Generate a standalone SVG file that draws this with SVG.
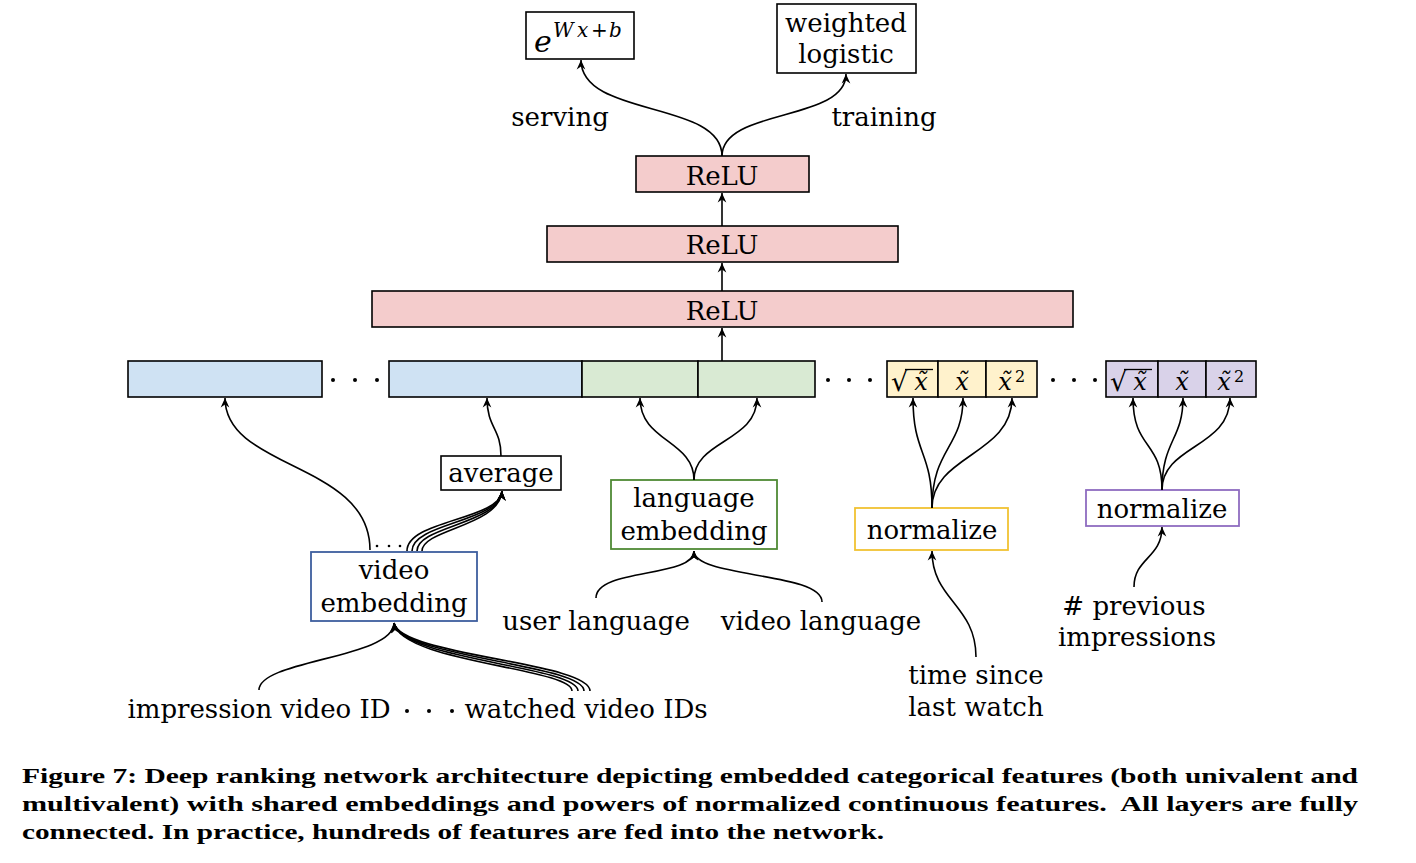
<svg xmlns="http://www.w3.org/2000/svg" width="1416" height="863" viewBox="0 0 1416 863">
<defs>
<marker id="arr" markerUnits="userSpaceOnUse" markerWidth="14" markerHeight="12" viewBox="-9 -5 11 10" refX="0" refY="0" orient="auto">
<path d="M0,0 L-8,-3.6 L-5.5,0 L-8,3.6 Z" fill="#000"/>
</marker>
</defs>
<style>
.lbl{font-family:"DejaVu Serif","Liberation Serif",serif;font-size:26px;fill:#000;text-anchor:middle}
.math{font-family:"DejaVu Serif","Liberation Serif",serif;font-style:italic;fill:#000}
.rm{font-family:"DejaVu Serif","Liberation Serif",serif;fill:#000}
.cap{font-family:"Liberation Serif","DejaVu Serif",serif;font-weight:bold;font-size:22px;fill:#000}
.box{stroke:#000;stroke-width:1.6}
.relu{fill:#f4cccc}
.blue{fill:#cfe2f3}
.green{fill:#d9ead3}
.yel{fill:#fff2cc}
.pur{fill:#d9d2e9}
.wb{fill:#fff}
.conn path{fill:none;stroke:#000;stroke-width:1.6}
.ah{marker-end:url(#arr)}
.dot{fill:#000}
.bar{stroke:#000;stroke-width:1.3}
</style>
<rect width="1416" height="863" fill="#fff"/>

<!-- outputs -->
<g id="serve-box">
<rect class="box wb" x="526" y="12" width="108" height="47"/>
<text class="math" x="534" y="52" font-size="30">e</text>
<text class="math" x="553" y="37" font-size="20">W</text>
<text class="math" x="577" y="37" font-size="20">x</text>
<text class="rm" x="591" y="37" font-size="20">+</text>
<text class="math" x="609" y="37" font-size="20">b</text>
</g>
<g id="train-box">
<rect class="box wb" x="777" y="4" width="139" height="69"/>
<text class="lbl" x="846" y="32">weighted</text>
<text class="lbl" x="846" y="63">logistic</text>
</g>
<g id="serving-label"><text class="lbl" x="560" y="126">serving</text></g>
<g id="training-label"><text class="lbl" x="884" y="126">training</text></g>

<!-- relu layers -->
<g id="relu1">
<rect class="box relu" x="636" y="156" width="173" height="36"/>
<text class="lbl" x="722" y="185">ReLU</text>
</g>
<g id="relu2">
<rect class="box relu" x="547" y="226" width="351" height="36"/>
<text class="lbl" x="722" y="254">ReLU</text>
</g>
<g id="relu3">
<rect class="box relu" x="372" y="291" width="701" height="36"/>
<text class="lbl" x="722" y="320">ReLU</text>
</g>

<!-- feature row -->
<g id="feat-video-1"><rect class="box blue" x="128" y="361" width="194" height="36"/></g>
<g id="dots-1"><circle class="dot" cx="333" cy="380" r="2"/><circle class="dot" cx="355" cy="380" r="2"/><circle class="dot" cx="377" cy="380" r="2"/></g>
<g id="feat-video-2"><rect class="box blue" x="389" y="361" width="193" height="36"/></g>
<g id="feat-lang-1"><rect class="box green" x="582" y="361" width="116" height="36"/></g>
<g id="feat-lang-2"><rect class="box green" x="698" y="361" width="117" height="36"/></g>
<g id="dots-2"><circle class="dot" cx="828" cy="380" r="2"/><circle class="dot" cx="849" cy="380" r="2"/><circle class="dot" cx="870" cy="380" r="2"/></g>
<g id="feat-time">
<rect class="box yel" x="887" y="361" width="51" height="36"/>
<rect class="box yel" x="938" y="361" width="48" height="36"/>
<rect class="box yel" x="986" y="361" width="51" height="36"/>
<text class="rm" x="891" y="391" font-size="27">√</text>
<line class="bar" x1="905" y1="369.5" x2="933" y2="369.5"/>
<text class="math" x="921" y="390" font-size="24" text-anchor="middle">x̃</text>
<text class="math" x="962" y="390" font-size="24" text-anchor="middle">x̃</text>
<text class="math" x="1005" y="390" font-size="24" text-anchor="middle">x̃</text>
<text class="rm" x="1015" y="382" font-size="16">2</text>
</g>
<g id="dots-3"><circle class="dot" cx="1053" cy="380" r="2"/><circle class="dot" cx="1074" cy="380" r="2"/><circle class="dot" cx="1095" cy="380" r="2"/></g>
<g id="feat-impr">
<rect class="box pur" x="1106" y="361" width="52" height="36"/>
<rect class="box pur" x="1158" y="361" width="48" height="36"/>
<rect class="box pur" x="1206" y="361" width="50" height="36"/>
<text class="rm" x="1110" y="391" font-size="27">√</text>
<line class="bar" x1="1124" y1="369.5" x2="1152" y2="369.5"/>
<text class="math" x="1140" y="390" font-size="24" text-anchor="middle">x̃</text>
<text class="math" x="1182" y="390" font-size="24" text-anchor="middle">x̃</text>
<text class="math" x="1224" y="390" font-size="24" text-anchor="middle">x̃</text>
<text class="rm" x="1234" y="382" font-size="16">2</text>
</g>

<!-- lower nodes -->
<g id="average">
<rect class="box wb" x="441" y="456" width="120" height="34"/>
<text class="lbl" x="501" y="482">average</text>
</g>
<g id="video-embedding">
<rect class="wb" x="311" y="552" width="166" height="69" stroke="#3d5e9e" stroke-width="1.8"/>
<text class="lbl" x="394" y="579">video</text>
<text class="lbl" x="394" y="612">embedding</text>
</g>
<g id="language-embedding">
<rect class="wb" x="611" y="480" width="166" height="69" stroke="#4f8a35" stroke-width="1.8"/>
<text class="lbl" x="694" y="507">language</text>
<text class="lbl" x="694" y="540">embedding</text>
</g>
<g id="normalize-time">
<rect class="wb" x="855" y="508" width="153" height="42" stroke="#f1c232" stroke-width="1.8"/>
<text class="lbl" x="932" y="539">normalize</text>
</g>
<g id="normalize-impr">
<rect class="wb" x="1086" y="490" width="153" height="36" stroke="#8e6cc0" stroke-width="1.8"/>
<text class="lbl" x="1162" y="518">normalize</text>
</g>
<g id="dots-ve"><circle class="dot" cx="377" cy="546" r="1.3"/><circle class="dot" cx="389" cy="546" r="1.3"/><circle class="dot" cx="400" cy="546" r="1.3"/></g>

<!-- inputs -->
<g id="user-language"><text class="lbl" x="596" y="630">user language</text></g>
<g id="video-language"><text class="lbl" x="821" y="630">video language</text></g>
<g id="impression-video-id"><text class="lbl" x="259" y="718">impression video ID</text></g>
<g id="dots-ids"><circle class="dot" cx="407" cy="711" r="2"/><circle class="dot" cx="429" cy="711" r="2"/><circle class="dot" cx="452" cy="711" r="2"/></g>
<g id="watched-video-ids"><text class="lbl" x="586" y="718">watched video IDs</text></g>
<g id="time-since">
<text class="lbl" x="976" y="684">time since</text>
<text class="lbl" x="976" y="716">last watch</text>
</g>
<g id="previous-impressions">
<text class="lbl" x="1134" y="615">#&#160;previous</text>
<text class="lbl" x="1137" y="646">impressions</text>
</g>

<!-- connectors -->
<g id="connectors" class="conn">
<path class="ah" d="M722,156 C722,100 581,118 581,60"/>
<path class="ah" d="M722,156 C722,108 846,122 846,74"/>
<path class="ah" d="M722,226 L722,193"/>
<path class="ah" d="M722,291 L722,263"/>
<path class="ah" d="M722,361 L722,328"/>
<path class="ah" d="M370,550 C370,462 225,470 225,398"/>
<path class="ah" d="M407,551 C407,520 500,520 502,491"/>
<path class="ah" d="M412,551 C412,523 500,522 502,491"/>
<path class="ah" d="M417,551 C417,526 500,524 502,491"/>
<path class="ah" d="M422,551 C422,529 500,526 502,491"/>
<path class="ah" d="M501,456 C501,428 487,428 487,398"/>
<path class="ah" d="M694,480 C694,440 640,442 640,398"/>
<path class="ah" d="M694,480 C694,440 757,442 757,398"/>
<path class="ah" d="M596,598 C596,568 694,578 694,551"/>
<path class="ah" d="M822,602 C822,572 694,578 694,551"/>
<path class="ah" d="M259,690 C259,660 394,658 394,623"/>
<path class="ah" d="M572,691 C572,668 400,662 394,623"/>
<path class="ah" d="M578,691 C578,666 400,660 394,623"/>
<path class="ah" d="M584,691 C584,664 400,658 394,623"/>
<path class="ah" d="M590,691 C590,662 400,656 394,623"/>
<path class="ah" d="M932,508 C932,450 913,455 913,398"/>
<path class="ah" d="M932,508 C932,448 963,448 963,398"/>
<path class="ah" d="M932,508 C932,455 1012,455 1012,398"/>
<path class="ah" d="M976,657 C976,605 932,600 932,551"/>
<path class="ah" d="M1162,490 C1162,440 1133,450 1133,398"/>
<path class="ah" d="M1162,490 C1162,440 1183,440 1183,398"/>
<path class="ah" d="M1162,490 C1162,445 1230,448 1230,398"/>
<path class="ah" d="M1134,587 C1134,558 1162,558 1162,527"/>
</g>

<!-- caption -->
<g id="caption">
<text class="cap" x="22" y="783" textLength="1336" lengthAdjust="spacingAndGlyphs">Figure 7: Deep ranking network architecture depicting embedded categorical features (both univalent and</text>
<text class="cap" x="22" y="811" textLength="1336" lengthAdjust="spacingAndGlyphs">multivalent) with shared embeddings and powers of normalized continuous features.&#160; All layers are fully</text>
<text class="cap" x="22" y="839" textLength="862" lengthAdjust="spacingAndGlyphs">connected. In practice, hundreds of features are fed into the network.</text>
</g>
</svg>
